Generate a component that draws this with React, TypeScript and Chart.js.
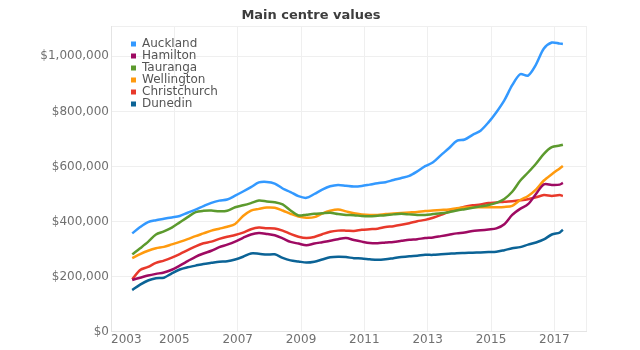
import React, { useEffect, useRef } from "react";
import { Chart, registerables } from "chart.js";

Chart.register(...registerables);

const FONT = "'DejaVu Sans', sans-serif";

// Decimal years of the sampled points
const dates = [
  2003.67, 2003.92,
  2004.17, 2004.42, 2004.67, 2004.92,
  2005.17, 2005.42, 2005.67, 2005.92,
  2006.17, 2006.42, 2006.67, 2006.92,
  2007.17, 2007.42, 2007.67, 2007.92,
  2008.17, 2008.42, 2008.67, 2008.92,
  2009.17, 2009.42, 2009.67, 2009.92,
  2010.17, 2010.42, 2010.67, 2010.92,
  2011.17, 2011.42, 2011.67, 2011.92,
  2012.17, 2012.42, 2012.67, 2012.92,
  2013.17, 2013.42, 2013.67, 2013.92,
  2014.17, 2014.42, 2014.67, 2014.92,
  2015.17, 2015.42, 2015.67, 2015.92,
  2016.17, 2016.42, 2016.67, 2016.92,
  2017.17, 2017.27,
];

// Values in thousands of dollars
const auckland = [357, 380, 398, 405, 410, 415, 420, 432, 443, 456, 468, 476, 480, 494, 509, 525, 542, 544, 538, 520, 507, 492, 486, 500, 516, 528, 533, 530, 527, 529, 534, 539, 543, 551, 558, 566, 582, 601, 615, 641, 666, 693, 698, 715, 730, 760, 797, 840, 895, 935, 930, 970, 1028, 1050, 1046, 1045];
const hamilton = [188, 196, 204, 210, 215, 225, 240, 256, 272, 284, 294, 307, 316, 327, 341, 353, 358, 355, 350, 339, 326, 320, 314, 320, 325, 330, 336, 340, 333, 327, 322, 321, 324, 326, 330, 334, 336, 340, 342, 347, 352, 357, 360, 366, 368, 371, 375, 390, 424, 446, 463, 500, 535, 533, 534, 540];
const tauranga = [281, 303, 326, 353, 364, 378, 397, 416, 434, 439, 440, 437, 439, 452, 459, 467, 476, 473, 470, 462, 440, 422, 425, 428, 430, 432, 427, 424, 423, 420, 419, 421, 423, 426, 428, 426, 424, 424, 427, 430, 434, 440, 445, 450, 455, 460, 468, 482, 508, 548, 578, 610, 646, 670, 676, 679];
const wellington = [267, 282, 294, 303, 308, 317, 326, 336, 347, 357, 367, 374, 381, 391, 420, 440, 446, 451, 450, 440, 428, 418, 414, 416, 429, 439, 444, 437, 430, 426, 424, 424, 427, 429, 431, 433, 435, 438, 440, 442, 444, 448, 451, 452, 452, 452, 452, 453, 457, 478, 493, 516, 549, 572, 593, 602];
const christchurch = [190, 224, 235, 250, 258, 269, 282, 296, 310, 321, 327, 337, 345, 351, 360, 372, 378, 376, 375, 367, 355, 345, 340, 344, 354, 363, 367, 367, 366, 370, 372, 374, 380, 383, 388, 394, 401, 406, 414, 424, 436, 446, 454, 459, 462, 467, 469, 472, 474, 477, 481, 488, 496, 493, 496, 493];
const dunedin = [151, 171, 186, 194, 196, 212, 226, 234, 240, 246, 250, 254, 256, 262, 272, 284, 283, 280, 281, 268, 259, 255, 251, 254, 262, 270, 272, 271, 267, 266, 263, 261, 263, 267, 271, 274, 276, 279, 279, 281, 283, 285, 286, 287, 288, 289, 290, 296, 303, 307, 316, 324, 335, 353, 360, 370];

const seriesNames = ["Auckland", "Hamilton", "Tauranga", "Wellington", "Christchurch", "Dunedin"];
const seriesValues = [auckland, hamilton, tauranga, wellington, christchurch, dunedin];
const seriesColors = ["#3399FF", "#9E0A62", "#5C9A2E", "#FF9A0E", "#E8392B", "#0B6396"];

const xTicks = [2003, 2005, 2007, 2009, 2011, 2013, 2015, 2017];
const yTicks = [0, 200000, 400000, 600000, 800000, 1000000];
const X_MIN = 2003;
const X_MAX = 2018;
const Y_MAX = 1110000;

const legendShift = {
  id: "legendShift",
  afterLayout(chart: any) {
    const l = chart.legend;
    const ca = chart.chartArea;
    if (l && ca) {
      const w = l.width;
      const h = l.height;
      l.left = ca.left + 20;
      l.right = l.left + w;
      l.top = ca.top + 12;
      l.bottom = l.top + h;
    }
  },
};

export default function App() {
  const ref = useRef<HTMLCanvasElement>(null);

  useEffect(() => {
    if (!ref.current) return;
    const datasets = seriesNames.map((name, s) => ({
      label: name,
      data: dates.map((d, i) => ({ x: d, y: seriesValues[s][i] * 1000 })),
      borderColor: seriesColors[s],
      backgroundColor: seriesColors[s],
      borderWidth: 2.5,
      pointRadius: 0,
      tension: 0.3,
      fill: false,
    }));

    const chart = new Chart(ref.current, {
      type: "line",
      data: { datasets },
      options: {
        animation: false,
        responsive: false,
        layout: { padding: { left: 36, right: 54, top: 0, bottom: 0 } },
        plugins: {
          title: {
            display: true,
            text: "Main centre values",
            color: "#3d3d3d",
            font: { family: FONT, size: 13, weight: "bold" },
            padding: { top: 8, bottom: 2.4 },
          },
          legend: {
            position: "chartArea",
            align: "start",
            labels: {
              boxWidth: 5,
              boxHeight: 5,
              padding: 0,
              color: "#555555",
              font: { family: FONT, size: 12 },
              generateLabels: (c: any) =>
                Chart.defaults.plugins.legend.labels
                  .generateLabels(c)
                  .map((l: any) => ({ ...l, lineWidth: 0 })),
            },
          },
          tooltip: { enabled: false },
        },
        scales: {
          x: {
            type: "linear",
            min: X_MIN,
            max: X_MAX,
            afterBuildTicks: (s: any) => {
              s.ticks = [...xTicks, X_MAX].map((v) => ({ value: v }));
            },
            afterFit: (s: any) => {
              s.height = 18.3;
            },
            grid: { color: "#efefef", drawTicks: false },
            border: { color: "#e4e4e4" },
            ticks: {
              align: "inner",
              padding: 1,
              maxRotation: 0,
              autoSkip: false,
              color: "#707070",
              font: { family: FONT, size: 12 },
              callback: (v: any) => (xTicks.includes(v) ? String(v) : ""),
            },
          },
          y: {
            min: 0,
            max: Y_MAX,
            afterBuildTicks: (s: any) => {
              s.ticks = [...yTicks, Y_MAX].map((v) => ({ value: v }));
            },
            afterFit: (s: any) => {
              s.width = 75;
            },
            grid: { color: "#efefef", drawTicks: false },
            border: { color: "#e4e4e4" },
            ticks: {
              padding: 2,
              color: "#707070",
              font: { family: FONT, size: 12 },
              callback: (v: any) =>
                yTicks.includes(v) ? "$" + Number(v).toLocaleString("en-US") : "",
            },
          },
        },
      } as any,
      plugins: [legendShift],
    });
    return () => chart.destroy();
  }, []);

  return (
    <div style={{ position: "fixed", left: 0, top: 0, width: 640, height: 350, background: "#fff" }}>
      <canvas ref={ref} width={640} height={350} style={{ display: "block" }} />
    </div>
  );
}
